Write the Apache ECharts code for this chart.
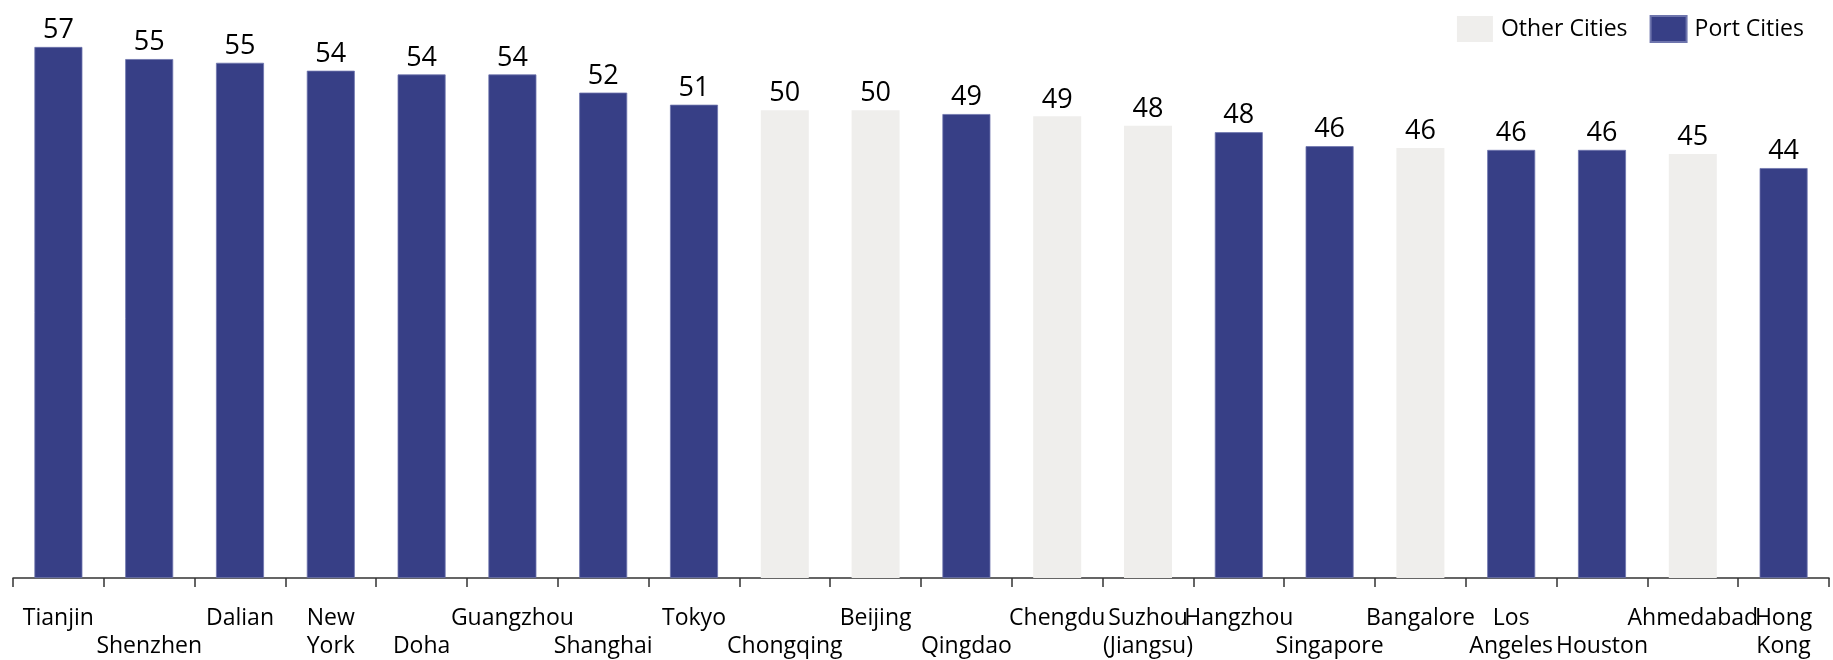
<!DOCTYPE html>
<html>
<head>
<meta charset="utf-8">
<script src="https://cdn.jsdelivr.net/npm/echarts@6/dist/echarts.min.js"></script>
<style>
html,body{margin:0;padding:0;background:#fff;}
#chart{width:1833px;height:660px;}
</style>
</head>
<body>
<div id="chart"></div>
<script>
// Data
var categories = ["Tianjin","Shenzhen","Dalian","New York","Doha","Guangzhou","Shanghai","Tokyo","Chongqing","Beijing","Qingdao","Chengdu","Suzhou (Jiangsu)","Hangzhou","Singapore","Bangalore","Los Angeles","Houston","Ahmedabad","Hong Kong"];
var axisLabels = ["Tianjin","\nShenzhen","Dalian","New\nYork","\nDoha","Guangzhou","\nShanghai","Tokyo","\nChongqing","Beijing","\nQingdao","Chengdu","Suzhou\n(Jiangsu)","Hangzhou","\nSingapore","Bangalore","Los\nAngeles","\nHouston","Ahmedabad","Hong\nKong"];
var cityType = ["Port","Port","Port","Port","Port","Port","Port","Port","Other","Other","Port","Other","Other","Port","Port","Other","Port","Port","Other","Port"];
var values = [57.0, 55.7, 55.3, 54.45, 54.05, 54.05, 52.1, 50.8, 50.2, 50.2, 49.8, 49.55, 48.55, 47.85, 46.35, 46.15, 45.95, 45.95, 45.5, 44.0];
var valueLabels = ["57","55","55","54","54","54","52","51","50","50","49","49","48","48","46","46","46","46","45","44"];

var portData = values.map(function(v,i){ return cityType[i] === "Port" ? v : null; });
var otherData = values.map(function(v,i){ return cityType[i] === "Other" ? v : null; });

var FONT = "Open Sans";
var labelCfg = {
  show: true,
  position: 'top',
  distance: 3,
  fontFamily: FONT,
  fontSize: 27,
  color: '#000',
  formatter: function(p){ return valueLabels[p.dataIndex]; }
};

var chart = echarts.init(document.getElementById('chart'), null, {renderer:'canvas'});
chart.setOption({
  animation: false,
  backgroundColor: '#fff',
  legend: {
    right: 24,
    top: 10,
    itemWidth: 36,
    itemHeight: 26,
    itemGap: 22,
    icon: 'rect',
    textStyle: {fontFamily: FONT, fontSize: 23, color: '#000', padding: [0,0,0,3]},
    data: ['Other Cities','Port Cities']
  },
  grid: {left: 13, right: 4, top: 19, height: 561.6, containLabel: false},
  xAxis: {
    type: 'category',
    data: categories,
    axisLine: {lineStyle: {color: '#333', width: 1.5}},
    axisTick: {show: true, length: 9, lineStyle: {color: '#333', width: 1.5}},
    axisLabel: {
      interval: 0,
      margin: 26,
      fontFamily: FONT,
      fontSize: 23,
      lineHeight: 28,
      color: '#000',
      verticalAlign: 'top',
      formatter: function(v, i){ return axisLabels[i]; }
    }
  },
  yAxis: {type: 'value', min: 0, max: 60, show: false, splitLine: {show: false}},
  series: [
    {
      name: 'Other Cities',
      type: 'bar',
      data: otherData,
      barWidth: 48,
      barGap: '-100%',
      itemStyle: {color: '#EFEEEC'},
      label: labelCfg
    },
    {
      name: 'Port Cities',
      type: 'bar',
      data: portData,
      barWidth: 48,
      barGap: '-100%',
      itemStyle: {color: '#373F86', borderColor: '#6E75AD', borderWidth: 0.8},
      label: labelCfg
    }
  ]
});
</script>
</body>
</html>
